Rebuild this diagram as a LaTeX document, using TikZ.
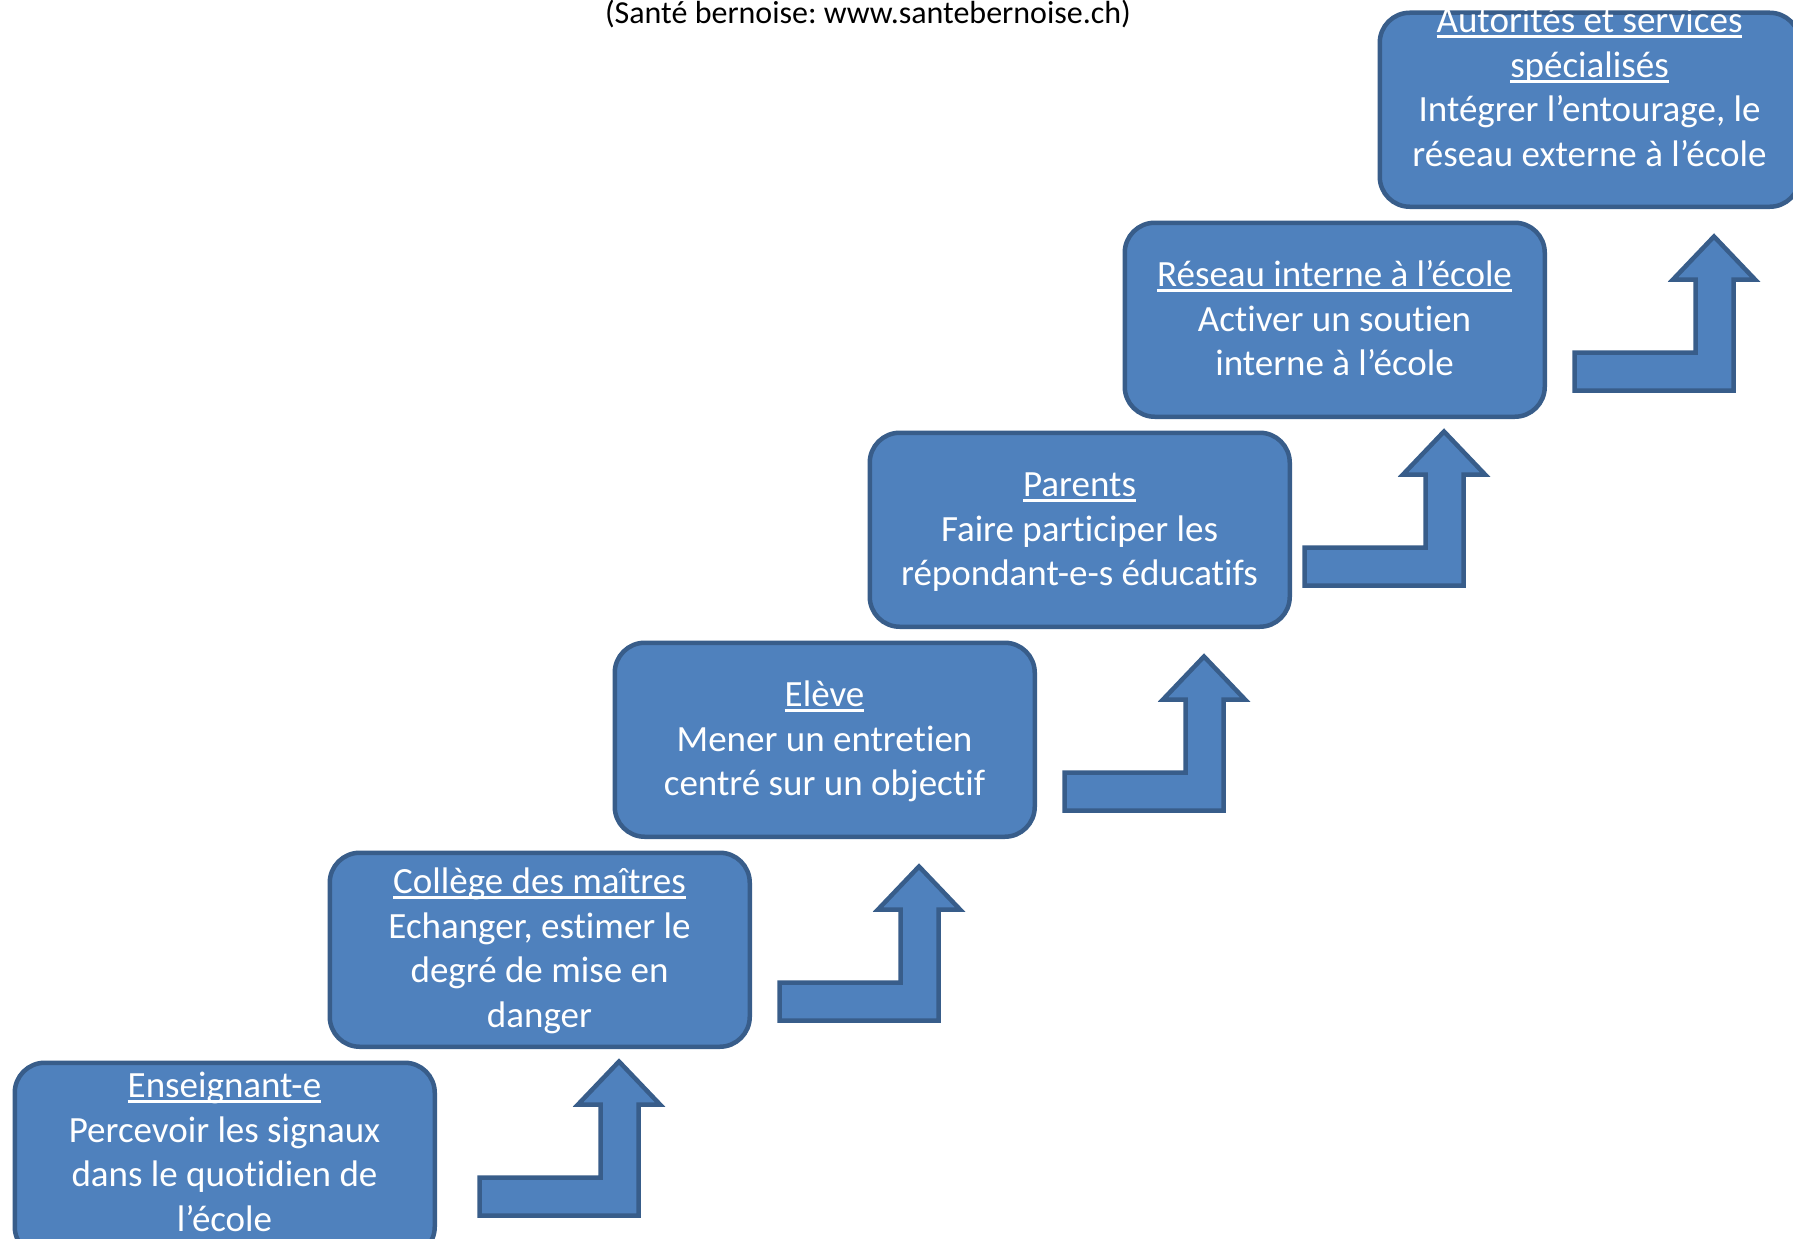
\documentclass[tikz,border=0pt]{standalone}
\usepackage{fontspec}
\setmainfont{Carlito}[Ligatures={NoCommon,NoRequired,NoContextual}]
\frenchspacing
\definecolor{boxfill}{HTML}{4F81BD}
\definecolor{boxline}{HTML}{385D8A}
\newcommand\myul[1]{\setbox0\hbox{#1}\rlap{\rule[-6pt]{\wd0}{3pt}}\box0}
\newcommand\firstln{\rule{0pt}{30pt}}
\tikzset{
  stepbox/.style={draw=boxline, line width=4.5pt, fill=boxfill, rounded corners=30pt,
    minimum width=420pt, minimum height=194pt, inner sep=0pt, anchor=north west},
  steptext/.style={text=white, align=center, font=\fontsize{37}{44.8}\selectfont,
    inner sep=0pt, anchor=north},
  bent/.style={draw=boxline, line width=4.5pt, fill=boxfill, line join=miter},
  bentarrow/.pic={\path[bent] (2.5,-2.5) -- (161.5,-2.5) -- (161.5,-113.5) -- (183,-113.5)
    -- (142,-156.5) -- (101,-113.5) -- (123.5,-113.5) -- (123.5,-40.5) -- (2.5,-40.5) -- cycle;}
}
\begin{document}
\begin{tikzpicture}[x=1pt,y=-1pt]
\useasboundingbox[fill=white] (0,0) rectangle (1793,1239);

\node[font=\fontsize{32}{38}\selectfont, anchor=base, inner sep=0pt] (title) at (868,24)
  {(Santé bernoise: www.santebernoise.ch)};

% boxes
\node[stepbox] (b1) at (12.5,1060.5) {};
\node[stepbox] (b2) at (327.5,850.5) {};
\node[stepbox] (b3) at (612.5,640.5) {};
\node[stepbox] (b4) at (867.5,430.5) {};
\node[stepbox] (b5) at (1122.5,220.5) {};
\node[stepbox] (b6) at (1377.5,10.5) {};

% texts (first baseline - 30)
\node[steptext] (t1) at (224.5,1067) {\firstln\myul{Enseignant-e}\\Percevoir les signaux\\dans le quotidien de\\l’école};
\node[steptext] (t2) at (539.5,863) {\firstln\myul{Collège des maîtres}\\Echanger, estimer le\\degré de mise en\\danger};
\node[steptext] (t3) at (824.5,676) {\firstln\myul{Elève}\\Mener un entretien\\centré sur un objectif};
\node[steptext] (t4) at (1079.5,466) {\firstln\myul{Parents}\\Faire participer les\\répondant-e-s éducatifs};
\node[steptext] (t5) at (1334.5,256) {\firstln\myul{Réseau interne à l’école}\\Activer un soutien\\interne à l’école};
\node[steptext] (t6) at (1589.5,2) {\firstln\myul{Autorités et services}\\\myul{spécialisés}\\Intégrer l’entourage, le\\réseau externe à l’école};

% bent arrows
\pic at (477,1218) {bentarrow};
\pic at (777,1023) {bentarrow};
\pic at (1062,813) {bentarrow};
\pic at (1302,588) {bentarrow};
\pic at (1572,393) {bentarrow};
\end{tikzpicture}
\end{document}
